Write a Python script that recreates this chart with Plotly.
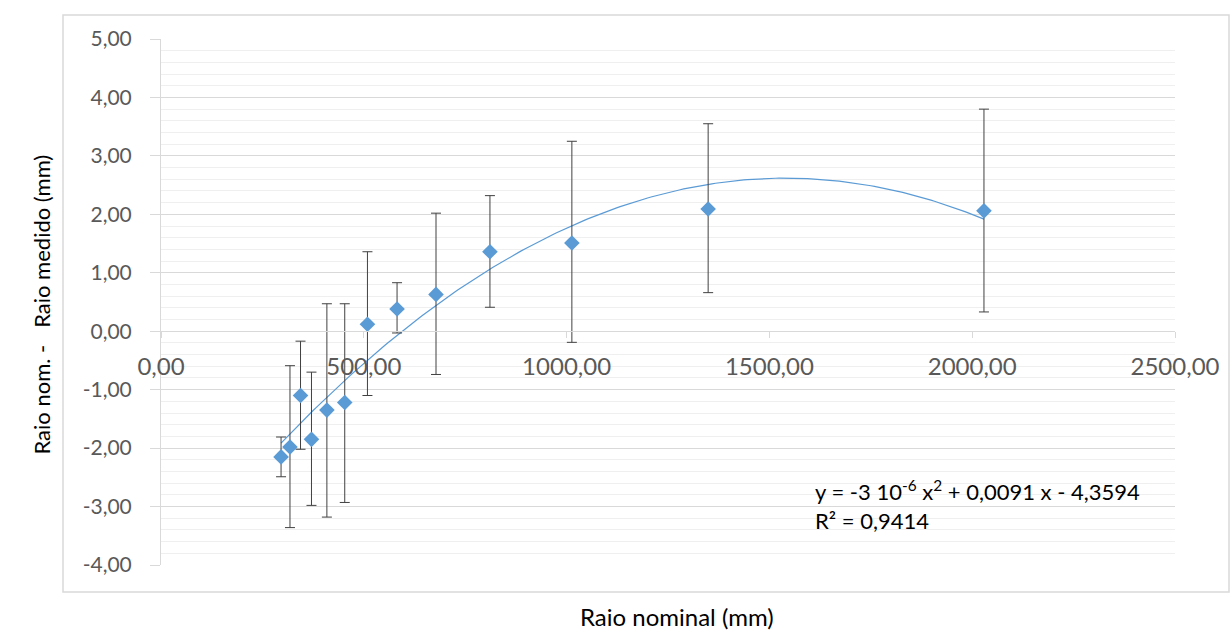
import numpy as np
import plotly.graph_objects as go

# Data
raio_nominal = [296, 318, 344, 371, 409, 453, 509, 582, 678, 811, 1013, 1349, 2029]
diferenca = [-2.15, -1.98, -1.10, -1.85, -1.35, -1.22, 0.12, 0.38, 0.63, 1.36, 1.51, 2.09, 2.06]
erro_topo = [-1.81, -0.59, -0.17, -0.70, 0.47, 0.47, 1.36, 0.83, 2.02, 2.32, 3.25, 3.55, 3.80]
erro_base = [-2.49, -3.36, -2.02, -2.98, -3.18, -2.93, -1.10, -0.03, -0.74, 0.41, -0.19, 0.66, 0.33]

x_ticks = [0, 500, 1000, 1500, 2000, 2500]
x_ticktext = ["0,00", "500,00", "1000,00", "1500,00", "2000,00", "2500,00"]
y_ticks = [5, 4, 3, 2, 1, 0, -1, -2, -3, -4]
y_ticktext = ["5,00", "4,00", "3,00", "2,00", "1,00", "0,00", "-1,00", "-2,00", "-3,00", "-4,00"]

# Polynomial trendline coefficients (as drawn in the reference)
coef = [-2.93e-6, 0.009024, -4.329]

x = np.array(raio_nominal, dtype=float)
y = np.array(diferenca)
up = np.array(erro_topo) - y
down = y - np.array(erro_base)

xt = np.linspace(x.min(), x.max(), 200)
yt = np.polyval(coef, xt)

W, H = 1231, 633
L, R, T, B = 161, 1175, 39, 565
ml, mr, mt, mb = L, W - R, T, H - B

def px(v):
    return (v - L) / (R - L)

def py(v):
    return (B - v) / (B - T)

fig = go.Figure()
fig.add_trace(go.Scatter(x=xt, y=yt, mode="lines",
                         line=dict(color="#5B9BD5", width=1.2), hoverinfo="skip",
                         showlegend=False))
fig.add_trace(go.Scatter(
    x=x, y=y, mode="markers",
    marker=dict(symbol="diamond", size=12, color="#5B9BD5"),
    error_y=dict(type="data", symmetric=False, array=up, arrayminus=down,
                 color="#404040", thickness=1, width=5),
    showlegend=False))

fig.update_layout(
    width=W, height=H,
    margin=dict(l=ml, r=mr, t=mt, b=mb, pad=0),
    paper_bgcolor="white", plot_bgcolor="white",
    font=dict(family="Lato, Open Sans, sans-serif", color="#595959"),
    xaxis=dict(range=[0, 2500], tickvals=x_ticks, ticktext=x_ticktext,
               showgrid=False, zeroline=False, showline=True, linecolor="#d9d9d9",
               linewidth=1, ticks="outside", ticklen=6, tickcolor="#d9d9d9",
               anchor="free", position=4 / 9, ticklabelstandoff=8,
               tickfont=dict(size=24, color="#595959")),
    yaxis=dict(range=[-4, 5], tickvals=y_ticks, ticktext=y_ticktext,
               showgrid=True, gridcolor="#d9d9d9", gridwidth=1,
               zeroline=False, showline=True, linecolor="#d9d9d9",
               ticks="outside", ticklen=10, tickcolor="#d9d9d9", ticklabelstandoff=14,
               minor=dict(dtick=0.2, showgrid=True, gridcolor="#efefef", gridwidth=1),
               tickfont=dict(size=21, color="#595959")),
    shapes=[dict(type="rect", xref="paper", yref="paper",
                 x0=px(63), x1=px(1229), y0=py(592), y1=py(15),
                 line=dict(color="#d9d9d9", width=1.5), layer="below")],
    annotations=[
        dict(text="Raio nominal (mm)", xref="paper", yref="paper",
             x=px(677), y=py(633), yanchor="bottom", showarrow=False,
             font=dict(size=24, color="#000000")),
        dict(text="Raio nom. -   Raio medido (mm)", xref="paper", yref="paper",
             x=px(25), y=py(305), showarrow=False, textangle=-90,
             font=dict(size=22, color="#000000")),
        dict(text="y = -3 10<sup>-6</sup> x<sup>2</sup> + 0,0091 x - 4,3594<br>R² = 0,9414",
             xref="paper", yref="paper", x=px(813), y=py(505),
             xanchor="left", yanchor="middle", align="left", showarrow=False,
             font=dict(size=22, color="#000000")),
    ],
)

fig.write_html("out.html")
